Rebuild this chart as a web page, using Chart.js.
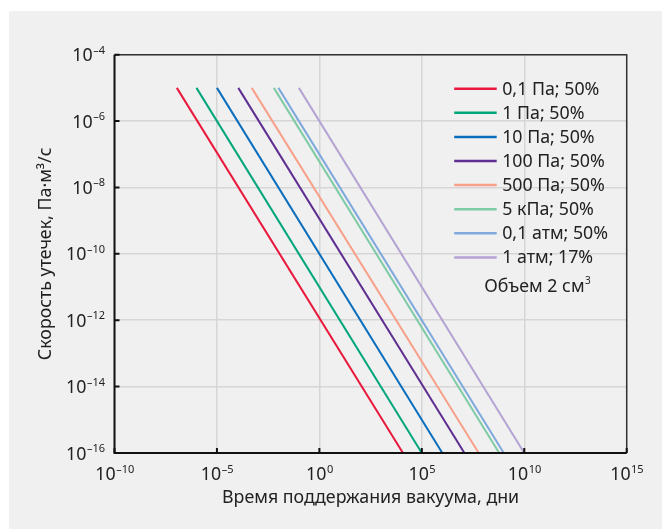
<!DOCTYPE html>
<html>
<head>
<meta charset="utf-8">
<script src="https://cdn.jsdelivr.net/npm/chart.js@4.4.1/dist/chart.umd.min.js"></script>
<style>
  html, body { margin: 0; padding: 0; background: #fff; }
  #wrap { width: 662px; height: 529px; }
</style>
</head>
<body>
<div id="wrap"><canvas id="leakChart" width="662" height="529"></canvas></div>
<script>
// series: each line runs from leak rate 1e-5 down to 1e-16 Pa·m3/s
const seriesLabels = ['0,1 Па; 50%', '1 Па; 50%', '10 Па; 50%', '100 Па; 50%', '500 Па; 50%', '5 кПа; 50%', '0,1 атм; 50%', '1 атм; 17%'];
const seriesColors = ['#e8193c', '#00a67a', '#0a6ebd', '#5e2e91', '#f7a08a', '#7fcba6', '#7fa9dd', '#b4a3d3'];
const leakRange = [1e-5, 1e-16];
const timeStart = [1.1e-7, 1e-6, 1e-5, 1.1e-4, 5e-4, 6e-3, 1e-2, 1e-1];   // days at 1e-5
const timeEnd = [1.2e4, 1e5, 1e6, 1.2e7, 6e7, 6e8, 1e9, 1e10];            // days at 1e-16

const xTickExp = [-10, -5, 0, 5, 10, 15];
const yTickExp = [-4, -6, -8, -10, -12, -14, -16];

const xTitle = 'Время поддержания вакуума, дни';
const yTitle = 'Скорость утечек, Па·м³/с';
const note = 'Объем 2 см';

const FONT = '"Noto Sans", "Open Sans", sans-serif';
const BIG = '17.8px ' + FONT;
const SMALL = '11px ' + FONT;

const datasets = seriesLabels.map(function (label, i) {
    return {
        label: label,
        data: [{ x: timeStart[i], y: leakRange[0] }, { x: timeEnd[i], y: leakRange[1] }],
        borderColor: seriesColors[i],
        backgroundColor: seriesColors[i],
        borderWidth: 2,
        pointRadius: 0,
        showLine: true
    };
});

function drawPower(c, exp, x, y, align) {
    // "10" with superscript exponent; y = vertical centre of the "10"
    var base = '10';
    var sup = exp < 0 ? '\u2013' + Math.abs(exp) : String(exp);
    c.font = BIG;
    var wb = c.measureText(base).width;
    c.font = SMALL;
    var we = c.measureText(sup).width;
    var x0 = align === 'right' ? x - wb - we : x - (wb + we) / 2;
    c.textAlign = 'left';
    c.textBaseline = 'alphabetic';
    c.font = BIG;
    c.fillText(base, x0, y + 6.5);
    c.font = SMALL;
    c.fillText(sup, x0 + wb + 0.5, y - 1);
}

const decorations = {
    id: 'decorations',
    beforeDraw: function (chart) {
        var c = chart.ctx;
        c.save();
        c.fillStyle = '#ffffff';
        c.fillRect(0, 0, chart.width, chart.height);
        c.fillStyle = '#f0f0f0';
        c.fillRect(9, 11, chart.width - 9, chart.height - 11);
        c.restore();
    },
    afterDraw: function (chart) {
        var c = chart.ctx;
        var a = chart.chartArea;
        var xs = chart.scales.x, ys = chart.scales.y;
        c.save();

        // frame
        c.strokeStyle = '#333';
        c.lineWidth = 1.5;
        c.beginPath();
        c.moveTo(a.left, a.top); c.lineTo(a.right, a.top); c.lineTo(a.right, a.bottom);
        c.stroke();
        c.strokeStyle = '#111';
        c.lineWidth = 2;
        c.beginPath();
        c.moveTo(a.left, a.top); c.lineTo(a.left, a.bottom); c.lineTo(a.right, a.bottom);
        c.stroke();

        // inward tick marks
        c.beginPath();
        xTickExp.forEach(function (e) {
            var px = xs.getPixelForValue(Math.pow(10, e));
            c.moveTo(px, a.bottom); c.lineTo(px, a.bottom - 5);
        });
        yTickExp.forEach(function (e) {
            var py = ys.getPixelForValue(Math.pow(10, e));
            c.moveTo(a.left, py); c.lineTo(a.left + 5, py);
        });
        c.stroke();

        // tick labels
        c.fillStyle = '#222';
        xTickExp.forEach(function (e) {
            drawPower(c, e, xs.getPixelForValue(Math.pow(10, e)), a.bottom + 20.5, 'center');
        });
        yTickExp.forEach(function (e) {
            drawPower(c, e, a.left - 10, ys.getPixelForValue(Math.pow(10, e)), 'right');
        });

        // axis titles
        c.font = BIG;
        c.textAlign = 'center';
        c.textBaseline = 'middle';
        c.fillText(xTitle, (a.left + a.right) / 2, a.bottom + 45);
        c.save();
        c.translate(46, (a.top + a.bottom) / 2);
        c.rotate(-Math.PI / 2);
        c.fillText(yTitle, 0, 0);
        c.restore();

        // legend inside plot
        var lx = a.right - 172.5, ty = a.top + 34, step = 24.1;
        chart.data.datasets.forEach(function (ds, i) {
            var y = ty + i * step;
            c.strokeStyle = ds.borderColor;
            c.lineWidth = 2.5;
            c.beginPath();
            c.moveTo(lx, y); c.lineTo(lx + 42.5, y);
            c.stroke();
            c.fillStyle = '#222';
            c.font = BIG;
            c.textAlign = 'left';
            c.textBaseline = 'middle';
            c.fillText(ds.label, lx + 48, y + 1);
        });
        c.font = BIG;
        c.textBaseline = 'middle';
        c.fillText(note, lx + 30, ty + 8 * step + 5);
        var wn = c.measureText(note).width;
        c.font = '10px ' + FONT;
        c.fillText('3', lx + 30 + wn + 0.5, ty + 8 * step);
        c.restore();
    }
};

function fixedTicks(exps) {
    return function (scale) {
        scale.ticks = exps.map(function (e) { return { value: Math.pow(10, e) }; });
    };
}

new Chart(document.getElementById('leakChart').getContext('2d'), {
    type: 'scatter',
    data: { datasets: datasets },
    options: {
        responsive: false,
        animation: false,
        layout: { padding: { left: 114.5, right: 35.3, top: 54.7, bottom: 76 } },
        plugins: { legend: { display: false }, tooltip: { enabled: false } },
        scales: {
            x: {
                type: 'logarithmic',
                min: 1e-10,
                max: 1e15,
                afterBuildTicks: fixedTicks(xTickExp),
                ticks: { display: false },
                grid: { color: '#d6d6d6', lineWidth: 1.5, drawTicks: false },
                border: { display: false }
            },
            y: {
                type: 'logarithmic',
                min: 1e-16,
                max: 1e-4,
                afterBuildTicks: fixedTicks(yTickExp),
                ticks: { display: false },
                grid: { color: '#d6d6d6', lineWidth: 1.5, drawTicks: false },
                border: { display: false }
            }
        }
    },
    plugins: [decorations]
});
</script>
</body>
</html>
